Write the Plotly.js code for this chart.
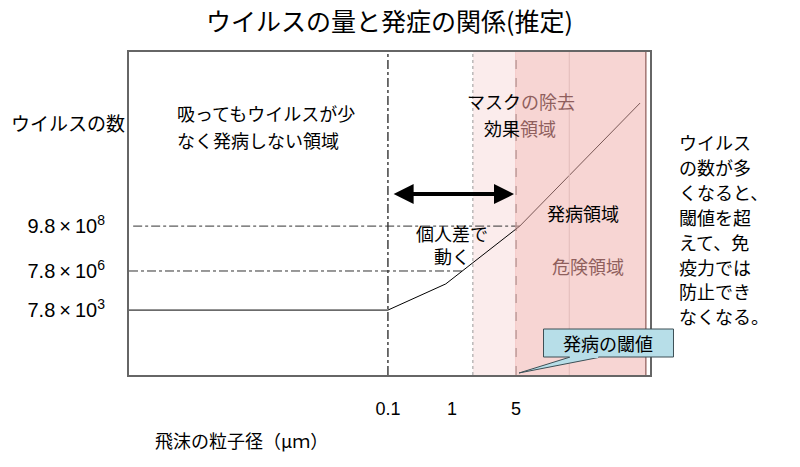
<!DOCTYPE html>
<html>
<head>
<meta charset="utf-8">
<script src="https://cdn.plot.ly/plotly-3.0.1.min.js"></script>
<style>html,body{margin:0;padding:0;background:#fff;}#chart{width:800px;height:467px;}</style>
</head>
<body>
<div id="chart"></div>
<script>
// Conceptual diagram: positions in arbitrary axis units (0-100)
const xTickPos = [49.7, 62.0, 74.3];
const xTickText = ['0.1', '1', '5'];
const yTickPos = [20.1, 32.2, 46.1];
const yTickText = ['7.8\u2009\u00d7\u200910<sup>3</sup>', '7.8\u2009\u00d7\u200910<sup>6</sup>', '9.8\u2009\u00d7\u200910<sup>8</sup>'];

// Virus-amount curve
const curveX = [0, 49.7, 60.8, 75.0, 98.1];
const curveY = [20.1, 20.1, 28.2, 46.1, 84.2];

// Regions
const maskRegion = [66.0, 74.3];
const dangerRegion = [74.1, 99.2];
const dangerInnerLine = 84.5;
const thresholdX = 74.3;

// Reference lines
const refLineY = [46.1, 32.2];
const refLineStart = [0.8, 0];
const refLineEnd = [75.0, 63.9];

// Individual-variation arrow
const arrowX = [50.5, 73.9];
const arrowY = 56.0;

// Side note lines
const noteLines = ['ウイルス', 'の数が多', 'くなると、', '閾値を超', 'えて、免', '疫力では', '防止でき', 'なくなる。'];

const CJK = '"Noto Sans CJK JP", Arial, sans-serif';
const LAT = 'Arial, "Liberation Sans", sans-serif';
const tint = '#8f5f5d';

const traces = [{
  x: curveX, y: curveY, type: 'scatter', mode: 'lines',
  line: {color: '#000', width: 1}, hoverinfo: 'skip', showlegend: false
}];

const shapes = [
  {type: 'rect', xref: 'x', yref: 'y', x0: maskRegion[0], x1: maskRegion[1], y0: 0, y1: 100,
   fillcolor: '#fbecec', line: {width: 0}, layer: 'below'},
  {type: 'line', xref: 'x', yref: 'y', x0: maskRegion[0], x1: maskRegion[0], y0: 0, y1: 100,
   line: {color: '#999', width: 1, dash: 'dot'}, layer: 'below'},
  {type: 'line', xref: 'x', yref: 'y', x0: xTickPos[0], x1: xTickPos[0], y0: 0, y1: 100,
   line: {color: '#111', width: 1.2, dash: 'dashdot'}, layer: 'below'},
  {type: 'line', xref: 'x', yref: 'y', x0: refLineStart[0], x1: refLineEnd[0], y0: refLineY[0], y1: refLineY[0],
   line: {color: '#333', width: 1, dash: 'dashdot'}, layer: 'below'},
  {type: 'line', xref: 'x', yref: 'y', x0: refLineStart[1], x1: refLineEnd[1], y0: refLineY[1], y1: refLineY[1],
   line: {color: '#333', width: 1, dash: 'dashdot'}, layer: 'below'},
  {type: 'line', xref: 'x', yref: 'y', x0: thresholdX, x1: thresholdX, y0: 0, y1: 100,
   line: {color: '#777', width: 1.2, dash: 'dash'}, layer: 'below'},
  {type: 'rect', xref: 'x', yref: 'y', x0: dangerRegion[0], x1: dangerRegion[1], y0: 0, y1: 100,
   fillcolor: 'rgba(239,171,167,0.5)', line: {width: 0}, layer: 'above'},
  {type: 'line', xref: 'x', yref: 'y', x0: dangerInnerLine, x1: dangerInnerLine, y0: 0, y1: 100,
   line: {color: '#e2bcba', width: 1}, layer: 'above'},
  {type: 'line', xref: 'x', yref: 'y', x0: dangerRegion[1], x1: dangerRegion[1], y0: 0, y1: 100,
   line: {color: '#a27471', width: 1.5}, layer: 'above'},
  // callout
  {type: 'path', xref: 'paper', yref: 'paper',
   path: 'M 0.8445,0.0545 L 0.9021,0.0545 L 0.7486,0.0062 Z',
   fillcolor: '#b7dee8', line: {color: '#3d4f55', width: 1}, layer: 'above'},
  {type: 'rect', xref: 'paper', yref: 'paper', x0: 0.7956, x1: 1.0451, y0: 0.0557, y1: 0.1424,
   fillcolor: '#b7dee8', line: {color: '#3d4f55', width: 1}, layer: 'above'},
  {type: 'line', xref: 'paper', yref: 'paper', x0: 0.846, x1: 0.901, y0: 0.0557, y1: 0.0557,
   line: {color: '#b7dee8', width: 2}, layer: 'above'}
];

function ann(text, x, y, opts) {
  return Object.assign({text: text, x: x, y: y, xref: 'x', yref: 'y', showarrow: false,
    font: {family: CJK, size: 18, color: '#000'}, xanchor: 'center', yanchor: 'middle'}, opts || {});
}

const annotations = [
  ann('吸ってもウイルスが少', 8.8, 81.1, {xanchor: 'left'}),
  ann('なく発病しない領域', 8.8, 72.8, {xanchor: 'left'}),
  ann('マスク<span style="color:' + tint + '">の除去</span>', 75.2, 84.9),
  ann('効果<span style="color:' + tint + '">領域</span>', 75.0, 76.5),
  ann('個人差で', 62.0, 43.9),
  ann('動く', 62.0, 36.8),
  ann('発病領域', 87.1, 50.2),
  ann('<span style="color:' + tint + '">危険領域</span>', 88.1, 33.7),
  ann('発病の閾値', 0.92, 0.099, {xref: 'paper', yref: 'paper'}),
  ann('ウイルスの数', -0.117, 0.783, {xref: 'paper', yref: 'paper', font: {family: CJK, size: 19, color: '#000'}}),
  ann('飛沫の粒子径（μｍ）', 0.215, -0.201, {xref: 'paper', yref: 'paper'}),
  {x: arrowX[1], y: arrowY, ax: arrowX[0], ay: arrowY, xref: 'x', yref: 'y', axref: 'x', ayref: 'y',
   text: '', showarrow: true, arrowhead: 2, arrowside: 'end+start', arrowwidth: 4, arrowsize: 1,
   arrowcolor: '#000', standoff: 0, startstandoff: 0}
];
noteLines.forEach(function (t, i) {
  annotations.push(ann(t, 1.0518, (375 - (142 + 24.9 * i)) / 323,
    {xref: 'paper', yref: 'paper', xanchor: 'left'}));
});

const layout = {
  width: 800, height: 467,
  margin: {l: 129, r: 150, t: 52, b: 92},
  paper_bgcolor: '#fff', plot_bgcolor: '#fff',
  title: {text: 'ウイルスの量と発症の関係(推定)', x: 0.5, xref: 'paper', xanchor: 'center',
          y: 0.953, yref: 'container', yanchor: 'middle',
          font: {family: CJK, size: 25, color: '#000'}},
  xaxis: {range: [0, 100], tickvals: xTickPos, ticktext: xTickText, showgrid: false, zeroline: false,
          showline: true, mirror: true, linecolor: '#666', linewidth: 2, ticks: '',
          ticklabelstandoff: 16, tickfont: {family: LAT, size: 18, color: '#000'}, fixedrange: true},
  yaxis: {range: [0, 100], tickvals: yTickPos, ticktext: yTickText, showgrid: false, zeroline: false,
          showline: true, mirror: true, linecolor: '#666', linewidth: 2, ticks: '',
          ticklabelstandoff: 18, tickfont: {family: LAT, size: 20, color: '#000'}, fixedrange: true},
  shapes: shapes,
  annotations: annotations,
  showlegend: false
};

Plotly.newPlot('chart', traces, layout, {displayModeBar: false, staticPlot: true});
</script>
</body>
</html>
